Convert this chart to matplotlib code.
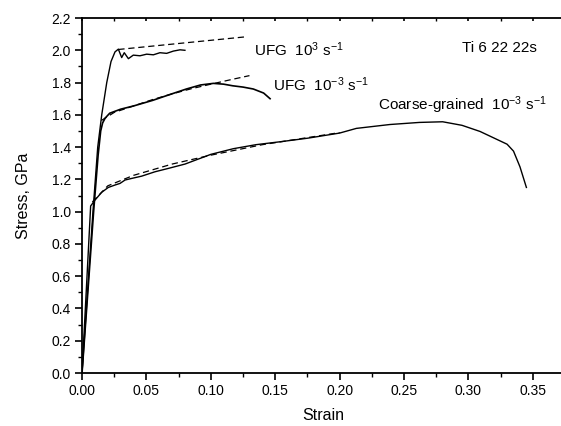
import matplotlib
matplotlib.use("Agg")
import matplotlib.pyplot as plt
from matplotlib.ticker import MultipleLocator

plt.rcParams['font.family'] = ['Liberation Sans', 'DejaVu Sans']
plt.rcParams['mathtext.fontset'] = 'custom'
plt.rcParams['mathtext.rm'] = 'Liberation Sans'
plt.rcParams['mathtext.it'] = 'Liberation Sans'

# UFG, 10^3 s^-1
ufg_fast_strain = [0.0, 0.0085, 0.0122, 0.0153, 0.0192, 0.0225, 0.0256, 0.0282,
                   0.0308, 0.0328, 0.0360, 0.0398, 0.0450, 0.0502, 0.0554,
                   0.0605, 0.0657, 0.0709, 0.0761, 0.0799]
ufg_fast_stress = [0.0, 1.00, 1.40, 1.60, 1.80, 1.93, 1.99, 2.007,
                   1.955, 1.985, 1.948, 1.970, 1.966, 1.976, 1.972,
                   1.985, 1.981, 1.995, 2.003, 2.000]
ufg_fast_fit_strain = [0.0282, 0.1278]
ufg_fast_fit_stress = [2.005, 2.084]

# UFG, 10^-3 s^-1
ufg_slow_strain = [0.0, 0.0090, 0.0125, 0.0145, 0.0160, 0.0180, 0.0215, 0.030,
                   0.040, 0.055, 0.066, 0.081, 0.092, 0.102, 0.110, 0.117,
                   0.125, 0.133, 0.141, 0.146]
ufg_slow_stress = [0.0, 1.00, 1.35, 1.50, 1.55, 1.58, 1.61, 1.635,
                   1.655, 1.69, 1.72, 1.76, 1.785, 1.795, 1.79, 1.78,
                   1.772, 1.76, 1.735, 1.70]
ufg_slow_fit_strain = [0.015, 0.025, 0.04, 0.055, 0.07, 0.085, 0.10, 0.115, 0.130]
ufg_slow_fit_stress = [1.565, 1.615, 1.655, 1.695, 1.73, 1.762, 1.79, 1.817, 1.843]

# coarse-grained, 10^-3 s^-1
coarse_strain = [0.0, 0.0067, 0.0101, 0.0153, 0.0204, 0.0256, 0.0295, 0.0334,
                 0.0386, 0.0463, 0.0566, 0.067, 0.080, 0.090, 0.100, 0.1174,
                 0.135, 0.1537, 0.175, 0.200, 0.213, 0.239, 0.262, 0.280,
                 0.295, 0.309, 0.330, 0.335, 0.340, 0.345]
coarse_stress = [0.0, 1.035, 1.072, 1.12, 1.15, 1.165, 1.175, 1.196,
                 1.206, 1.22, 1.247, 1.268, 1.295, 1.325, 1.355, 1.39,
                 1.415, 1.433, 1.455, 1.487, 1.516, 1.54, 1.553, 1.557,
                 1.535, 1.497, 1.418, 1.375, 1.278, 1.15]
coarse_fit_strain = [0.008, 0.02, 0.04, 0.07, 0.10, 0.14, 0.20]
coarse_fit_stress = [1.06, 1.16, 1.225, 1.295, 1.35, 1.415, 1.49]

fig = plt.figure(figsize=(5.61, 4.26), dpi=100)
ax = fig.add_axes([0.1462, 0.1244, 0.861, 0.8333])

ax.plot(ufg_fast_strain, ufg_fast_stress, color='black', lw=1.0)
ax.plot(ufg_fast_fit_strain, ufg_fast_fit_stress, color='black', lw=0.9, ls=(0, (5, 3)))
ax.plot(ufg_slow_strain, ufg_slow_stress, color='black', lw=1.2)
ax.plot(ufg_slow_fit_strain, ufg_slow_fit_stress, color='black', lw=0.9, ls=(0, (5, 3)))
ax.plot(coarse_strain, coarse_stress, color='black', lw=1.0)
ax.plot(coarse_fit_strain, coarse_fit_stress, color='black', lw=0.9, ls=(0, (5, 3)))

fs = 11
ax.text(0.1335, 2.001, r'UFG  10$^{3}$ s$^{-1}$', fontsize=fs, va='center')
ax.text(0.148, 1.785, r'UFG  10$^{-3}$ s$^{-1}$', fontsize=fs, va='center')
ax.text(0.2295, 1.66, r'Coarse-grained  10$^{-3}$ s$^{-1}$', fontsize=fs, va='center')
ax.text(0.2947, 2.012, 'Ti 6 22 22s', fontsize=fs, va='center')

ax.set_xlim(0, 0.375)
ax.set_ylim(0, 2.2)
ax.xaxis.set_major_locator(MultipleLocator(0.05))
ax.xaxis.set_minor_locator(MultipleLocator(0.025))
ax.yaxis.set_major_locator(MultipleLocator(0.2))
ax.yaxis.set_minor_locator(MultipleLocator(0.1))
ax.xaxis.set_major_formatter(plt.FuncFormatter(lambda v, p: '%.2f' % v))
ax.yaxis.set_major_formatter(plt.FuncFormatter(lambda v, p: '%.1f' % v))

ax.tick_params(which='major', direction='out', length=5, width=1.2, labelsize=10, pad=3)
ax.tick_params(which='minor', direction='out', length=3, width=1.0)
ax.tick_params(which='both', top=True, labeltop=False)
for t in ax.xaxis.get_major_ticks() + ax.xaxis.get_minor_ticks():
    t.tick2line.set_markersize(2)
    t.tick2line.set_marker(3)
for s in ax.spines.values():
    s.set_linewidth(1.3)

ax.set_xlabel('Strain', fontsize=11.5, labelpad=7)
ax.set_ylabel('Stress, GPa', fontsize=11.5, labelpad=15)

fig.savefig('out.png', dpi=100)
